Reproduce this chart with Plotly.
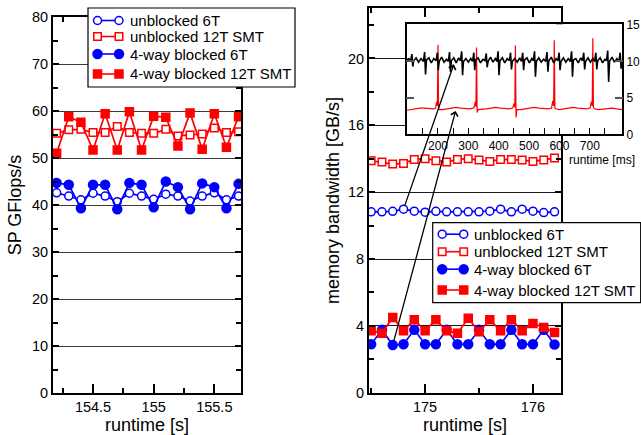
import plotly.graph_objects as go

W, H = 641, 435

# ---------------- data: left panel (SP GFlops/s) ----------------
t_left = [154.2, 154.3, 154.4, 154.5, 154.6, 154.7, 154.8, 154.9,
          155.0, 155.1, 155.2, 155.3, 155.4, 155.5, 155.6, 155.7]
gf_unb6 = [42.6, 41.9, 41.1, 42.5, 41.9, 40.7, 42.5, 41.9,
           41.2, 42.3, 41.9, 40.85, 41.9, 42.6, 41.1, 41.9]
gf_unb12 = [55.25, 56.0, 56.1, 55.4, 55.4, 56.7, 55.4, 55.25,
            55.25, 56.1, 54.7, 54.9, 55.1, 56.4, 55.4, 55.6]
gf_blk6 = [44.7, 44.3, 39.3, 44.3, 44.3, 39.1, 44.7, 44.3,
           39.5, 45.0, 43.8, 39.1, 44.6, 43.8, 39.3, 44.5]
gf_blk12 = [51.0, 58.8, 57.6, 51.7, 59.4, 51.7, 59.85, 51.7,
            58.9, 58.65, 52.55, 59.6, 51.85, 59.4, 52.3, 58.8]

# ---------------- data: right panel (memory bandwidth GB/s) ----------------
t_right = [174.5, 174.6, 174.7, 174.8, 174.9, 175.0, 175.1, 175.2, 175.3,
           175.4, 175.5, 175.6, 175.7, 175.8, 175.9, 176.0, 176.1, 176.2]
bw_unb6 = [10.82, 10.82, 10.85, 10.98, 10.86, 10.8, 10.85, 10.82, 10.82,
           10.82, 10.82, 10.86, 10.98, 10.82, 10.98, 10.86, 10.78, 10.82]
bw_unb12 = [13.88, 13.8, 13.68, 13.72, 13.96, 14.0, 13.88, 13.8, 13.96,
            14.0, 13.92, 13.84, 13.96, 13.96, 13.92, 13.84, 13.92, 14.04]
bw_blk6 = [2.9, 3.76, 2.85, 2.9, 3.76, 2.9, 2.9, 3.76, 2.9,
           2.9, 3.76, 2.9, 2.9, 3.76, 2.9, 2.9, 3.76, 2.88]
bw_blk12 = [3.70, 3.56, 4.50, 3.70, 4.36, 3.70, 4.36, 3.70, 3.56,
            4.46, 3.64, 4.36, 3.70, 4.36, 3.70, 4.14, 3.90, 3.60]

# ---------------- data: inset (runtime in ms) ----------------
ins_black_t = [97, 104,
               110, 114, 117, 120, 128, 136, 144,
               152, 156, 159, 162, 170, 178, 186,
               194, 198, 201, 204, 212, 220, 228,
               234, 238, 241, 244, 252, 260, 268,
               274, 278, 281, 284, 292, 300, 308,
               314, 318, 321, 324, 332, 340, 348,
               355, 359, 362, 365, 373, 381, 389,
               394, 398, 401, 404, 412, 420, 428,
               435, 439, 442, 445, 453, 461, 469,
               475, 479, 482, 485, 493, 501, 509,
               514, 518, 521, 524, 532, 540, 548,
               555, 559, 562, 565, 573, 581, 589,
               595, 599, 602, 605, 613, 621, 629,
               636, 640, 643, 646, 654, 662, 670,
               676, 680, 683, 686, 694, 702, 710,
               716, 720, 723, 726, 734, 742, 750,
               755, 759, 762, 765, 773, 781, 789,
               796, 800, 803, 807]
ins_black_v = [10.2, 10.4,
               10.0, 11.0, 9.3, 10.1, 10.5, 9.9, 10.4,
               10.0, 11.3, 8.2, 10.2, 10.5, 9.8, 10.4,
               10.1, 11.2, 8.8, 10.0, 10.6, 9.9, 10.3,
               10.0, 11.3, 8.6, 10.1, 10.5, 9.8, 10.5,
               10.1, 11.4, 8.1, 10.0, 10.4, 9.9, 10.4,
               10.0, 11.2, 8.8, 10.2, 10.5, 9.8, 10.3,
               10.1, 11.1, 9.2, 10.0, 10.6, 9.9, 10.4,
               10.0, 11.4, 8.1, 10.1, 10.5, 9.8, 10.4,
               10.1, 11.2, 8.9, 10.0, 10.4, 9.9, 10.5,
               10.0, 11.2, 8.8, 10.2, 10.5, 9.8, 10.4,
               10.1, 11.4, 7.9, 10.0, 10.5, 9.9, 10.3,
               10.0, 11.3, 8.6, 10.1, 10.6, 9.8, 10.4,
               10.1, 11.2, 8.8, 10.0, 10.5, 9.9, 10.4,
               10.0, 11.4, 7.9, 10.2, 10.4, 9.8, 10.5,
               10.1, 11.2, 8.9, 10.0, 10.5, 9.9, 10.4,
               10.0, 11.2, 8.9, 10.1, 10.5, 9.8, 10.3,
               10.1, 11.5, 7.2, 10.0, 10.6, 9.9, 10.4,
               10.0, 11.2, 9.0, 10.1]

ins_red_t = [97, 110, 125, 140, 155, 170, 185, 192, 196, 198, 200, 202, 205,
             215, 230, 245, 260, 275, 290, 305, 315, 319, 323, 325, 327, 329, 332,
             345, 360, 375, 390, 405, 420, 435, 446, 450, 453, 455, 457, 460,
             472, 487, 502, 517, 532, 547, 562, 574, 578, 581, 583, 585, 588,
             600, 615, 630, 645, 660, 675, 690, 701, 705, 708, 710, 712, 715,
             728, 743, 758, 773, 788, 800, 807]
ins_red_v = [3.3, 3.4, 3.5, 3.6, 3.6, 3.5, 3.5, 3.6, 4.5, 3.9, 12.3, 3.5, 3.4,
             3.4, 3.5, 3.6, 3.7, 3.6, 3.5, 3.5, 3.6, 3.7, 4.5, 3.8, 11.9, 3.0, 3.4,
             3.4, 3.5, 3.6, 3.7, 3.6, 3.5, 3.5, 3.6, 4.2, 3.7, 12.2, 2.3, 3.4,
             3.4, 3.5, 3.6, 3.7, 3.6, 3.5, 3.5, 3.6, 4.6, 3.9, 12.9, 3.6, 3.5,
             3.4, 3.5, 3.6, 3.7, 3.6, 3.5, 3.5, 3.6, 4.5, 3.9, 13.2, 3.7, 3.5,
             3.4, 3.5, 3.6, 3.6, 3.5, 3.4, 3.4]

series_names = ["unblocked 6T", "unblocked 12T SMT",
                "4-way blocked 6T", "4-way blocked 12T SMT"]

BLUE = "#0000ff"
RED = "#ff0000"
FONT = "Liberation Sans, Arial, sans-serif"

styles = [
    dict(color=BLUE, symbol="circle", fill="white", size=8),
    dict(color=RED, symbol="square", fill="white", size=7.5),
    dict(color=BLUE, symbol="circle", fill=BLUE, size=9),
    dict(color=RED, symbol="square", fill=RED, size=8),
]

fig = go.Figure()

left_data = [gf_unb6, gf_unb12, gf_blk6, gf_blk12]
right_data = [bw_unb6, bw_unb12, bw_blk6, bw_blk12]

for name, st, ys in zip(series_names, styles, left_data):
    fig.add_trace(go.Scatter(
        x=t_left, y=ys, name=name, mode="lines+markers", showlegend=False,
        line=dict(color=st["color"], width=1.7),
        marker=dict(symbol=st["symbol"], size=st["size"], color=st["fill"],
                    line=dict(color=st["color"], width=1.5)),
        xaxis="x", yaxis="y", cliponaxis=True))

for name, st, ys in zip(series_names, styles, right_data):
    fig.add_trace(go.Scatter(
        x=t_right, y=ys, name=name, mode="lines+markers", showlegend=False,
        line=dict(color=st["color"], width=1.7),
        marker=dict(symbol=st["symbol"], size=st["size"], color=st["fill"],
                    line=dict(color=st["color"], width=1.5)),
        xaxis="x2", yaxis="y2", cliponaxis=True))

fig.add_trace(go.Scatter(x=ins_red_t, y=ins_red_v, mode="lines",
                         line=dict(color=RED, width=1.2), showlegend=False,
                         xaxis="x3", yaxis="y3"))
fig.add_trace(go.Scatter(x=ins_black_t, y=ins_black_v, mode="lines",
                         line=dict(color="black", width=1.6), showlegend=False,
                         xaxis="x3", yaxis="y3"))

# ---------------- layout geometry ----------------
x1_dom = [53 / W, 241 / W]
y1_dom = [1 - 393 / H, 1 - 17 / H]
x2_dom = [369 / W, 561 / W]
y2_dom = [1 - 392.7 / H, 1 - 8.3 / H]
x3_dom = [406.7 / W, 622.3 / W]
y3_dom = [1 - 134.3 / H, 1 - 24.3 / H]

x1_rng = [154.17, 155.72]
y1_rng = [0, 80]
x2_rng = [174.48, 176.26]
y2_rng = [0, 23]
x3_rng = [97, 807]
y3_rng = [0, 15.1]

tickfont = dict(family=FONT, size=14.5, color="black")
titlefont = dict(family=FONT, size=18, color="black")
insfont = dict(family=FONT, size=12, color="black")

common = dict(showline=True, linecolor="black", linewidth=2, mirror="ticks",
              ticks="inside", tickcolor="black", tickwidth=1.5, zeroline=False,
              tickfont=tickfont, automargin=False)

fig.update_layout(
    width=W, height=H,
    margin=dict(l=0, r=0, t=0, b=0, pad=0, autoexpand=False),
    paper_bgcolor="white", plot_bgcolor="white",
    font=dict(family=FONT, color="black"),
    showlegend=False,
    xaxis=dict(domain=x1_dom, range=x1_rng, anchor="y", dtick=0.5, tick0=154.5,
               ticklen=9, showgrid=False,
               minor=dict(dtick=0.25, tick0=154.25, ticks="inside", ticklen=5,
                          tickcolor="black", tickwidth=1.5, showgrid=False),
               title=dict(text="runtime [s]", font=titlefont, standoff=2),
               **common),
    yaxis=dict(domain=y1_dom, range=y1_rng, anchor="x", dtick=10, tick0=0,
               ticklen=6, showgrid=True, gridcolor="#3a3a3a", gridwidth=1.4,
               minor=dict(dtick=5, tick0=0, ticks="inside", ticklen=5,
                          tickcolor="black", tickwidth=1.5, showgrid=False),
               title=dict(text="SP GFlops/s", font=titlefont, standoff=6),
               **common),
    xaxis2=dict(domain=x2_dom, range=x2_rng, anchor="y2", dtick=1, tick0=175,
                ticklen=9, showgrid=False,
                minor=dict(dtick=0.5, tick0=174.5, ticks="inside", ticklen=5,
                           tickcolor="black", tickwidth=1.5, showgrid=False),
                title=dict(text="runtime [s]", font=titlefont, standoff=2),
                **common),
    yaxis2=dict(domain=y2_dom, range=y2_rng, anchor="x2", dtick=4, tick0=0,
                ticklen=6, showgrid=True, gridcolor="#1a1a1a", gridwidth=1.3,
                minor=dict(dtick=2, tick0=0, ticks="inside", ticklen=5,
                           tickcolor="black", tickwidth=1.5, showgrid=False),
                title=dict(text="memory bandwidth [GB/s]", font=titlefont, standoff=4),
                **common),
    xaxis3=dict(domain=x3_dom, range=x3_rng, anchor="y3",
                tickvals=[200, 300, 400, 500, 600, 700],
                ticks="inside", ticklen=7, tickcolor="black", tickwidth=1.3,
                minor=dict(tickvals=[150, 250, 350, 450, 550, 650, 750],
                           ticks="inside", ticklen=7, tickcolor="black",
                           tickwidth=1.3, showgrid=False),
                showline=True, linecolor="black", linewidth=1.5, mirror=True,
                showgrid=False, zeroline=False, tickfont=insfont, automargin=False),
    yaxis3=dict(domain=y3_dom, range=y3_rng, anchor="x3", side="right",
                dtick=5, tick0=0, ticks="inside", ticklen=8, tickcolor="#555",
                tickwidth=1.5, showline=True, linecolor="black", linewidth=1.5,
                mirror="ticks", showgrid=False, zeroline=False, tickfont=insfont,
                automargin=False),
)


# ---------------- legends (drawn as boxed keys, gnuplot style) ----------------
def px_x(v):
    return v / W


def px_y(v):
    return 1 - v / H


def add_legend(x0, y0, width, height, row_offsets):
    fig.add_shape(type="rect", xref="paper", yref="paper", layer="above",
                  x0=px_x(x0), x1=px_x(x0 + width), y0=px_y(y0), y1=px_y(y0 + height),
                  line=dict(color="black", width=1.2), fillcolor="white")
    for name, st, dy in zip(series_names, styles, row_offsets):
        yc = y0 + dy
        m1, m2 = x0 + 9.5, x0 + 31
        fig.add_shape(type="line", xref="paper", yref="paper", layer="above",
                      x0=px_x(m1), x1=px_x(m2), y0=px_y(yc), y1=px_y(yc),
                      line=dict(color=st["color"], width=1.6))
        r = st["size"] / 2
        shp = "circle" if st["symbol"] == "circle" else "rect"
        for mx in (m1, m2):
            fig.add_shape(type=shp, xref="paper", yref="paper", layer="above",
                          x0=px_x(mx - r), x1=px_x(mx + r),
                          y0=px_y(yc + r), y1=px_y(yc - r),
                          line=dict(color=st["color"], width=1.5),
                          fillcolor=st["fill"])
        fig.add_annotation(x=px_x(x0 + 39.5), y=px_y(yc), xref="paper", yref="paper",
                           xanchor="left", yanchor="middle", showarrow=False,
                           text=name, font=dict(family=FONT, size=15, color="black"))


add_legend(88, 8, 207, 79, [12.5, 28.5, 46, 66])
add_legend(432.7, 222.7, 208, 80, [11.5, 29, 46.5, 67.3])


def inset_to_main(t_ms, val):
    """Convert inset data coords to the right panel's data coords (via paper)."""
    px = x3_dom[0] + (t_ms - x3_rng[0]) / (x3_rng[1] - x3_rng[0]) * (x3_dom[1] - x3_dom[0])
    py = y3_dom[0] + (val - y3_rng[0]) / (y3_rng[1] - y3_rng[0]) * (y3_dom[1] - y3_dom[0])
    mx = x2_rng[0] + (px - x2_dom[0]) / (x2_dom[1] - x2_dom[0]) * (x2_rng[1] - x2_rng[0])
    my = y2_rng[0] + (py - y2_dom[0]) / (y2_dom[1] - y2_dom[0]) * (y2_rng[1] - y2_rng[0])
    return mx, my


arrows = [
    (t_right[3], bw_unb6[3], 252, 9.6),
    (t_right[2], bw_blk6[2], 258, 3.2),
]
for tx, ty, hx, hy in arrows:
    mx, my = inset_to_main(hx, hy)
    fig.add_annotation(x=mx, y=my, ax=tx, ay=ty, xref="x2", yref="y2",
                       axref="x2", ayref="y2", showarrow=True, arrowhead=4,
                       arrowsize=1.1, arrowwidth=1.3, arrowcolor="black",
                       startstandoff=3, text="")

fig.add_annotation(x=637 / W, y=1 - 160 / H, xref="paper", yref="paper",
                   xanchor="right", yanchor="middle", showarrow=False,
                   text="runtime [ms]", font=insfont)

fig.write_html("out.html")
